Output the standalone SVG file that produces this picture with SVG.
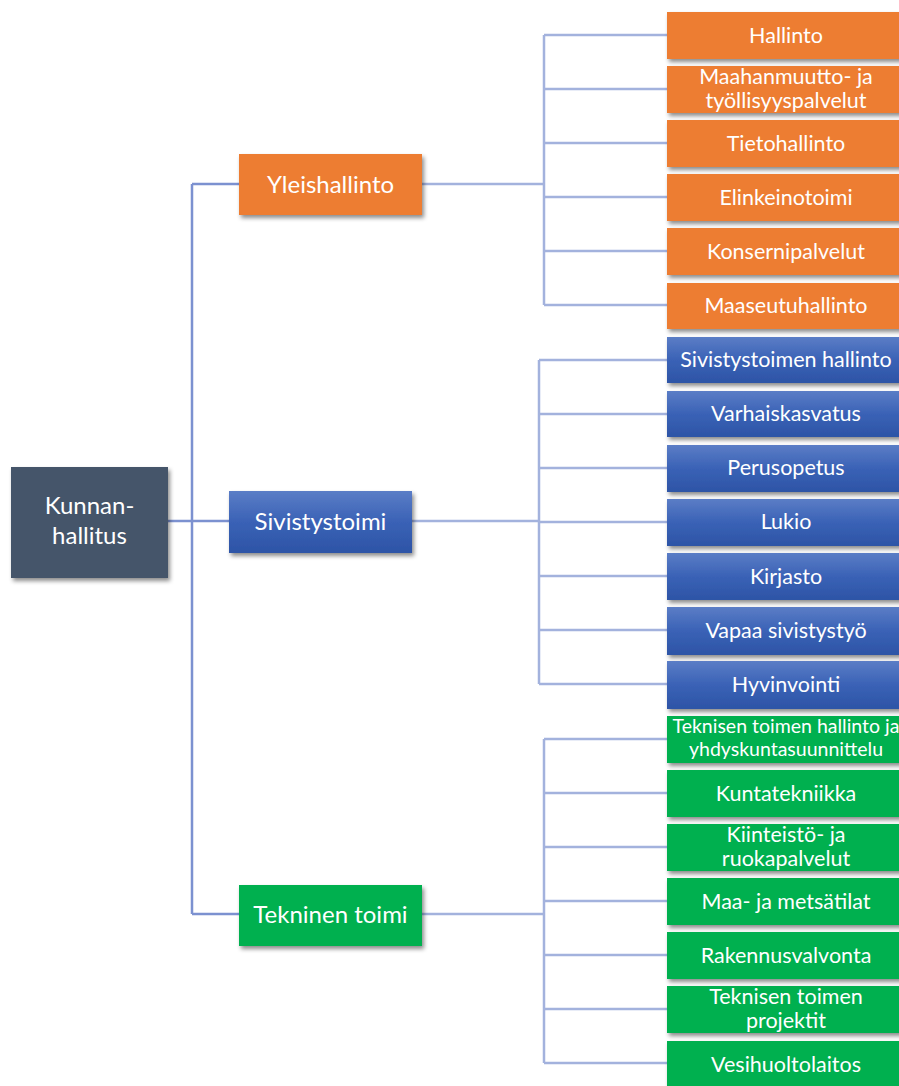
<svg xmlns="http://www.w3.org/2000/svg" width="899" height="1086" viewBox="0 0 899 1086">
<style>
.t{font-family:Lato,"Open Sans","DejaVu Sans",sans-serif;fill:#fff;text-anchor:middle}
.c{font-size:21.5px}
.s{font-size:19.5px}
.m{font-size:24px}
.k1{stroke:#7C91D0;stroke-width:2.5;fill:none}
.k2{stroke:#A3B2DD;stroke-width:2.5;fill:none}
.or{fill:#ED7D31}
.gr{fill:#00B050}
.bl{fill:url(#blg)}
</style>
<defs>
<linearGradient id="blg" x1="0" y1="0" x2="0" y2="1">
<stop offset="0" stop-color="#5B7DC6"/>
<stop offset="0.5" stop-color="#3A62B6"/>
<stop offset="1" stop-color="#2D54A6"/>
</linearGradient>
<filter id="sh" x="-10%" y="-20%" width="125%" height="150%">
<feDropShadow dx="2" dy="3" stdDeviation="2.2" flood-color="#000" flood-opacity="0.45"/>
</filter>
</defs>
<g id="connectors">
<path class="k1" d="M168,521 H229 M192,184 V914 M192,184 H239 M192,914 H239"/>
<path class="k2" d="M422,184 H544 M544,35 V305 M544,35 H667 M544,89 H667 M544,143 H667 M544,197 H667 M544,251 H667 M544,305 H667"/>
<path class="k2" d="M412,521 H539 M539,360 V684 M539,360 H667 M539,414 H667 M539,468 H667 M539,522 H667 M539,576 H667 M539,630 H667 M539,684 H667"/>
<path class="k2" d="M422,914 H544 M544,739 V1063 M544,739 H667 M544,793 H667 M544,847 H667 M544,901 H667 M544,955 H667 M544,1009 H667 M544,1063 H667"/>
</g>
<g id="kunnanhallitus"><rect x="11" y="467" width="157" height="111" fill="#44546A" filter="url(#sh)"/><text class="t m" x="89.5" y="514">Kunnan-</text><text class="t m" x="89.5" y="544">hallitus</text></g>
<g id="yleishallinto"><rect class="or" x="239" y="154" width="183" height="61" filter="url(#sh)"/><text class="t m" x="330.5" y="193">Yleishallinto</text></g>
<g id="sivistystoimi"><rect class="bl" x="229" y="491" width="183" height="62" filter="url(#sh)"/><text class="t m" x="320.5" y="530">Sivistystoimi</text></g>
<g id="tekninen"><rect class="gr" x="239" y="885" width="183" height="61" filter="url(#sh)"/><text class="t m" x="330.5" y="923">Tekninen toimi</text></g>

<g id="hallinto"><rect class="or" x="667" y="12" width="240" height="47" filter="url(#sh)"/><text class="t c" x="786" y="43">Hallinto</text></g>
<g id="maahanmuutto"><rect class="or" x="667" y="66" width="240" height="47" filter="url(#sh)"/><text class="t c" x="786" y="84">Maahanmuutto- ja</text><text class="t c" x="786" y="108">työllisyyspalvelut</text></g>
<g id="tietohallinto"><rect class="or" x="667" y="120" width="240" height="47" filter="url(#sh)"/><text class="t c" x="786" y="151">Tietohallinto</text></g>
<g id="elinkeinotoimi"><rect class="or" x="667" y="174" width="240" height="47" filter="url(#sh)"/><text class="t c" x="786" y="205">Elinkeinotoimi</text></g>
<g id="konsernipalvelut"><rect class="or" x="667" y="228" width="240" height="47" filter="url(#sh)"/><text class="t c" x="786" y="259">Konsernipalvelut</text></g>
<g id="maaseutuhallinto"><rect class="or" x="667" y="283" width="240" height="46" filter="url(#sh)"/><text class="t c" x="786" y="313">Maaseutuhallinto</text></g>

<g id="sivhallinto"><rect class="bl" x="667" y="337" width="240" height="46" filter="url(#sh)"/><text class="t c" x="786" y="367">Sivistystoimen hallinto</text></g>
<g id="varhaiskasvatus"><rect class="bl" x="667" y="391" width="240" height="46" filter="url(#sh)"/><text class="t c" x="786" y="421">Varhaiskasvatus</text></g>
<g id="perusopetus"><rect class="bl" x="667" y="445" width="240" height="47" filter="url(#sh)"/><text class="t c" x="786" y="475">Perusopetus</text></g>
<g id="lukio"><rect class="bl" x="667" y="499" width="240" height="47" filter="url(#sh)"/><text class="t c" x="786" y="529">Lukio</text></g>
<g id="kirjasto"><rect class="bl" x="667" y="553" width="240" height="47" filter="url(#sh)"/><text class="t c" x="786" y="584">Kirjasto</text></g>
<g id="vapaa"><rect class="bl" x="667" y="607" width="240" height="48" filter="url(#sh)"/><text class="t c" x="786" y="638">Vapaa sivistystyö</text></g>
<g id="hyvinvointi"><rect class="bl" x="667" y="661" width="240" height="48" filter="url(#sh)"/><text class="t c" x="786" y="692">Hyvinvointi</text></g>

<g id="tekhallinto"><rect class="gr" x="667" y="716" width="240" height="47" filter="url(#sh)"/><text class="t s" x="786" y="733">Teknisen toimen hallinto ja</text><text class="t s" x="786" y="756">yhdyskuntasuunnittelu</text></g>
<g id="kuntatekniikka"><rect class="gr" x="667" y="770" width="240" height="47" filter="url(#sh)"/><text class="t c" x="786" y="801">Kuntatekniikka</text></g>
<g id="kiinteisto"><rect class="gr" x="667" y="824" width="240" height="47" filter="url(#sh)"/><text class="t c" x="786" y="842">Kiinteistö- ja</text><text class="t c" x="786" y="866">ruokapalvelut</text></g>
<g id="maajametsa"><rect class="gr" x="667" y="878" width="240" height="47" filter="url(#sh)"/><text class="t c" x="786" y="909">Maa- ja metsätilat</text></g>
<g id="rakennusvalvonta"><rect class="gr" x="667" y="932" width="240" height="47" filter="url(#sh)"/><text class="t c" x="786" y="963">Rakennusvalvonta</text></g>
<g id="tekprojektit"><rect class="gr" x="667" y="986" width="240" height="47" filter="url(#sh)"/><text class="t c" x="786" y="1004">Teknisen toimen</text><text class="t c" x="786" y="1028">projektit</text></g>
<g id="vesihuolto"><rect class="gr" x="667" y="1041" width="240" height="50" filter="url(#sh)"/><text class="t c" x="786" y="1072">Vesihuoltolaitos</text></g>
</svg>
